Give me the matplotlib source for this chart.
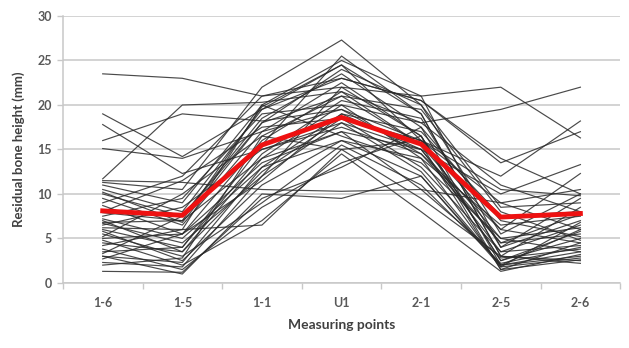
import matplotlib as mpl
mpl.use("Agg")
import matplotlib.pyplot as plt
import numpy as np

points = ["1-6", "1-5", "1-1", "U1", "2-1", "2-5", "2-6"]

# individual patients, values in mm at each measuring point
patients = [
    [23.5, 23.0, 21.0, 22.0, 21.0, 22.0, 16.3],
    [11.7, 20.0, 20.3, 21.5, 18.0, 19.5, 22.0],
    [16.0, 19.0, 18.2, 19.5, 16.0, 12.0, 18.2],
    [19.0, 14.2, 19.5, 23.0, 20.5, 13.5, 17.0],
    [17.8, 12.3, 15.0, 18.0, 15.0, 10.0, 13.3],
    [15.1, 14.0, 17.0, 19.5, 14.5, 6.0, 12.3],
    [11.5, 11.3, 10.5, 10.3, 10.5, 9.0, 10.5],
    [11.3, 10.5, 22.0, 27.3, 20.0, 5.5, 10.0],
    [11.0, 9.0, 20.0, 25.0, 21.0, 4.0, 9.5],
    [10.5, 8.0, 19.5, 24.5, 19.0, 3.0, 8.5],
    [10.0, 7.5, 18.5, 23.5, 17.5, 2.0, 6.0],
    [9.5, 6.5, 17.0, 22.5, 16.5, 2.5, 5.0],
    [8.7, 5.5, 16.0, 21.5, 15.5, 1.5, 4.5],
    [7.9, 7.0, 14.0, 20.0, 14.0, 6.5, 7.5],
    [7.2, 5.0, 13.0, 19.0, 17.0, 7.5, 8.0],
    [7.0, 3.5, 12.5, 18.5, 13.0, 3.5, 6.5],
    [6.7, 4.5, 12.0, 18.0, 12.5, 2.0, 3.0],
    [6.5, 8.5, 15.0, 17.5, 14.5, 4.5, 5.5],
    [6.2, 6.0, 20.0, 16.5, 13.5, 5.0, 3.5],
    [5.8, 2.5, 11.0, 16.0, 12.0, 1.8, 2.8],
    [5.5, 3.0, 9.0, 15.5, 11.0, 2.2, 4.0],
    [5.2, 10.0, 16.5, 15.0, 9.5, 3.0, 2.5],
    [4.8, 2.0, 7.0, 14.5, 8.0, 1.3, 3.2],
    [4.2, 6.0, 6.5, 15.0, 16.0, 6.0, 4.5],
    [3.8, 1.5, 8.5, 13.5, 16.5, 2.5, 5.8],
    [3.5, 4.0, 14.5, 20.5, 18.5, 4.0, 7.0],
    [3.3, 7.5, 18.0, 24.0, 20.0, 8.5, 9.0],
    [3.0, 1.0, 10.0, 9.5, 12.0, 2.0, 3.5],
    [2.7, 5.5, 13.5, 17.0, 15.0, 3.5, 4.2],
    [2.3, 1.8, 12.0, 22.0, 16.5, 1.5, 2.6],
    [2.0, 2.8, 16.5, 21.0, 15.5, 5.0, 6.2],
    [1.3, 1.2, 9.5, 13.0, 17.5, 7.0, 5.2],
    [7.5, 9.5, 19.0, 20.0, 18.0, 11.0, 8.0],
    [6.0, 4.0, 15.5, 25.5, 19.0, 3.0, 2.2],
    [9.0, 12.0, 21.0, 23.0, 20.5, 14.0, 10.0],
    [4.5, 3.5, 14.0, 17.0, 10.5, 2.8, 3.8],
    [10.2, 6.8, 18.0, 21.0, 19.5, 8.0, 4.8],
    [8.0, 11.5, 17.5, 18.5, 16.0, 10.5, 9.8],
    [3.0, 2.3, 13.0, 16.0, 14.0, 1.8, 6.8],
    [5.0, 5.5, 11.5, 19.0, 15.0, 4.5, 7.7],
    [6.8, 7.0, 19.8, 24.5, 16.0, 9.0, 6.0],
]

mean_height = [8.1, 7.6, 15.5, 18.6, 15.6, 7.4, 7.8]

GRID = "#c8c8c8"
TEXT = "#595959"

mpl.rcParams.update({
    "font.family": ["Lato", "DejaVu Sans"],
    "font.size": 9,
})

fig = plt.figure(figsize=(6.29, 3.48), dpi=100)
ax = fig.add_axes([0.100, 0.187, 0.886, 0.767])

x = np.arange(len(points))
for p in patients:
    ax.plot(x, p, color="#2a2a2a", lw=0.85, alpha=0.85, zorder=2)
ax.plot(x, mean_height, color="#ee1111", lw=3.5, solid_joinstyle="miter", zorder=5)

ax.set_xlim(-0.5, len(points) - 0.5)
ax.set_ylim(0, 30)
ax.set_yticks(np.arange(0, 31, 5))
ax.set_xticks(x)
ax.set_xticklabels(points)
ax.set_xticks(np.arange(-0.5, len(points)), minor=True)
ax.tick_params(axis="x", which="major", length=0, pad=10, labelsize=9, labelcolor=TEXT)
ax.tick_params(axis="x", which="minor", length=4, color=GRID, width=1)
ax.tick_params(axis="y", length=4, color=GRID, width=1, labelsize=9, labelcolor=TEXT, pad=4)
for lbl in ax.get_xticklabels() + ax.get_yticklabels():
    lbl.set_fontweight("bold")

ax.grid(True, axis="y", color=GRID, lw=1.1, zorder=0)
ax.set_axisbelow(True)
for side in ("top", "right"):
    ax.spines[side].set_visible(False)
for side in ("left", "bottom"):
    ax.spines[side].set_color(GRID)
    ax.spines[side].set_linewidth(1.1)

ax.set_xlabel("Measuring points", fontsize=10, fontweight="bold", color="#404040", labelpad=7)
ax.set_ylabel("Residual bone height (mm)", fontsize=9.5, fontweight="bold", color="#404040", labelpad=9)

fig.savefig("out.png", dpi=100)
